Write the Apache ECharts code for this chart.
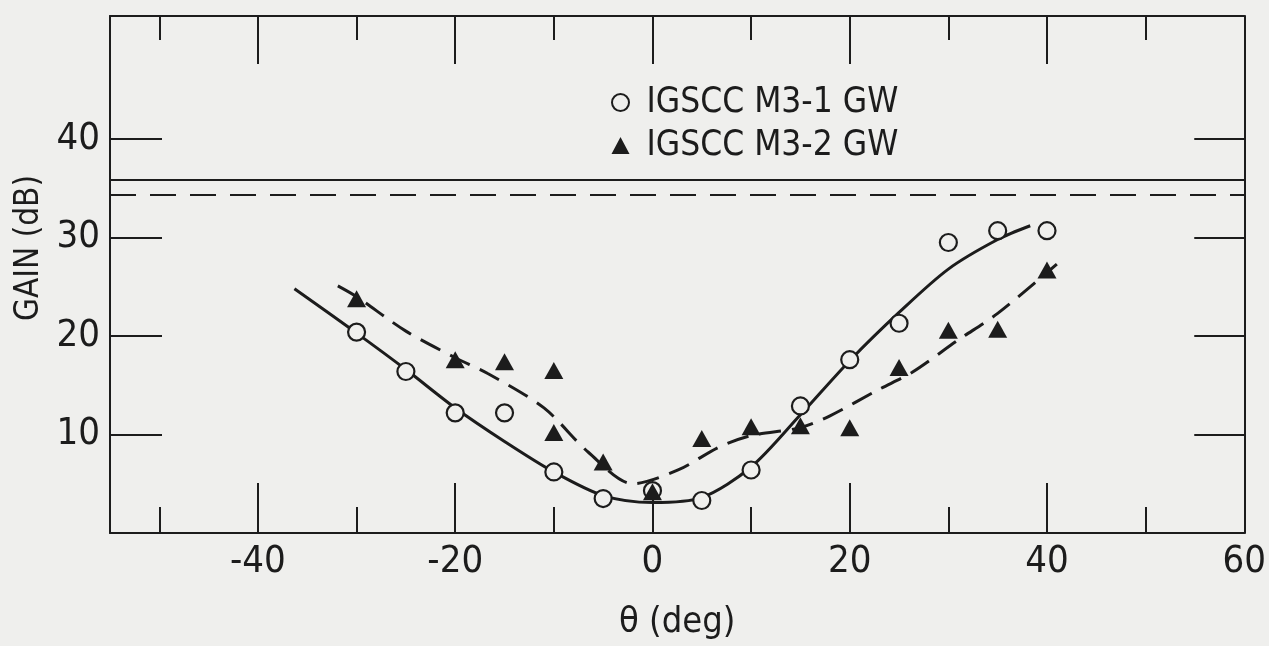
<!DOCTYPE html>
<html>
<head>
<meta charset="utf-8">
<script src="https://cdn.jsdelivr.net/npm/echarts@6/dist/echarts.min.js"></script>
<style>
  html, body { margin: 0; padding: 0; background: #efefed; }
  #chart { width: 1269px; height: 646px; }
</style>
</head>
<body>
<div id="chart"></div>
<script>
// Measured gain vs. incidence angle for two IGSCC samples
const m31Theta = [-30, -25, -20, -15, -10, -5, 0, 5, 10, 15, 20, 25, 30, 35, 40];
const m31Gain  = [20.4, 16.4, 12.2, 12.2, 6.2, 3.5, 4.3, 3.3, 6.4, 12.9, 17.6, 21.3, 29.5, 30.7, 30.7];

const m32Theta = [-30, -20, -15, -10, -10, -5, 0, 5, 10, 15, 20, 25, 30, 35, 40];
const m32Gain  = [23.8, 17.6, 17.4, 16.5, 10.2, 7.2, 4.2, 9.6, 10.8, 10.9, 10.7, 16.8, 20.6, 20.7, 26.7];

// Hand-drawn trend curves through each data set
const fit1Theta = [-36.3, -30, -25, -20, -15, -10, -5, 0, 5, 10, 15, 20, 25, 30, 35, 38.3];
const fit1Gain  = [24.8, 20.3, 16.6, 12.7, 9.3, 6.2, 3.8, 3.1, 3.6, 6.7, 12.0, 17.5, 22.4, 26.8, 29.8, 31.2];

const fit2Theta = [-31.9, -30, -25, -20, -16.7, -11, -6.5, -2, 2.6, 6.7, 10, 15, 18, 23, 26.3, 31, 35, 41];
const fit2Gain  = [25.1, 24.0, 20.5, 17.8, 16.2, 12.7, 8.2, 5.0, 6.4, 8.7, 9.9, 10.7, 11.9, 14.6, 16.3, 19.6, 22.3, 27.3];

// Reference gain levels
const refSolidGain = 35.9;
const refDashedGain = 34.3;

// Axis ticks and labels
const thetaMajor = [-40, -20, 0, 20, 40, 60];
const thetaMinor = [-50, -30, -10, 10, 30, 50];
const gainTicks  = [10, 20, 30, 40];
const thetaRange = [-55, 60];
const gainRange  = [0, 52.5];

const seriesNames = ['IGSCC M3-1 GW', 'IGSCC M3-2 GW'];

const FONT = "'Liberation Sans Narrow', 'DejaVu Sans Condensed', 'Liberation Sans', sans-serif";
const INK = '#1c1c1c';
const PAPER = '#efefed';

const zip = (xs, ys) => xs.map((x, i) => [x, ys[i]]);

function thetaAxis(position, ticks, len, opts) {
  opts = opts || {};
  return {
    type: 'value',
    position: position,
    min: thetaRange[0],
    max: thetaRange[1],
    axisLine: { show: !!opts.line, onZero: false, lineStyle: { color: INK, width: 2 } },
    axisTick: { show: true, inside: true, length: len, customValues: ticks, lineStyle: { color: INK, width: 2 } },
    axisLabel: opts.labels ? {
      show: true, customValues: ticks, margin: 10,
      color: INK, fontFamily: FONT, fontSize: 38,
      formatter: v => (v < 0 ? '-' + Math.abs(v) : String(v))
    } : { show: false },
    splitLine: { show: false },
    name: opts.name || '',
    nameLocation: 'middle',
    nameGap: 72,
    nameTextStyle: { color: INK, fontFamily: FONT, fontSize: 36 }
  };
}

function gainAxis(position, len, opts) {
  opts = opts || {};
  return {
    type: 'value',
    position: position,
    min: gainRange[0],
    max: gainRange[1],
    axisLine: { show: true, onZero: false, lineStyle: { color: INK, width: 2 } },
    axisTick: { show: true, inside: true, length: len, customValues: gainTicks, lineStyle: { color: INK, width: 2 } },
    axisLabel: opts.labels ? {
      show: true, customValues: gainTicks, margin: 10,
      color: INK, fontFamily: FONT, fontSize: 38
    } : { show: false },
    splitLine: { show: false }
  };
}

const chart = echarts.init(document.getElementById('chart'), null, { renderer: 'canvas' });

chart.setOption({
  backgroundColor: PAPER,
  animation: false,
  grid: { left: 110, right: 22, top: 16, bottom: 108, containLabel: false },
  xAxis: [
    thetaAxis('bottom', thetaMajor, 50, { line: true, labels: true, name: 'θ (deg)' }),
    thetaAxis('bottom', thetaMinor, 26),
    thetaAxis('top', thetaMajor.slice(0, 5), 48, { line: true }),
    thetaAxis('top', thetaMinor, 24)
  ],
  yAxis: [
    gainAxis('left', 52, { labels: true }),
    gainAxis('right', 50)
  ],
  legend: {
    data: seriesNames,
    orient: 'vertical',
    left: 606,
    top: 80,
    itemWidth: 18,
    itemHeight: 17,
    itemGap: 8,
    textStyle: { color: INK, fontFamily: FONT, fontSize: 35, padding: [0, 0, 0, 12] }
  },
  graphic: [{
    type: 'text',
    x: 29,
    y: 248,
    rotation: Math.PI / 2,
    style: {
      text: 'GAIN (dB)',
      fill: INK,
      font: "33px " + FONT,
      align: 'center',
      verticalAlign: 'middle'
    }
  }],
  series: [
    {
      type: 'line',
      xAxisIndex: 0, yAxisIndex: 0,
      data: zip(fit1Theta, fit1Gain),
      smooth: 0.3,
      showSymbol: false,
      symbol: 'none',
      lineStyle: { color: INK, width: 3 },
      markLine: {
        silent: true,
        symbol: 'none',
        label: { show: false },
        data: [
          { yAxis: refSolidGain, lineStyle: { color: INK, width: 2, type: 'solid' } },
          { yAxis: refDashedGain, lineStyle: { color: INK, width: 2, type: [26, 14] } }
        ]
      }
    },
    {
      type: 'line',
      xAxisIndex: 0, yAxisIndex: 0,
      data: zip(fit2Theta, fit2Gain),
      smooth: 0.3,
      showSymbol: false,
      symbol: 'none',
      lineStyle: { color: INK, width: 3, type: [22, 11] }
    },
    {
      name: seriesNames[0],
      type: 'scatter',
      xAxisIndex: 0, yAxisIndex: 0,
      data: zip(m31Theta, m31Gain),
      symbol: 'circle',
      symbolSize: 17,
      itemStyle: { color: PAPER, borderColor: INK, borderWidth: 2.2, opacity: 1 },
      z: 3
    },
    {
      name: seriesNames[1],
      type: 'scatter',
      xAxisIndex: 0, yAxisIndex: 0,
      data: zip(m32Theta, m32Gain),
      symbol: 'triangle',
      symbolSize: [19, 17],
      itemStyle: { color: INK, opacity: 1 },
      z: 4
    }
  ]
});
</script>
</body>
</html>
